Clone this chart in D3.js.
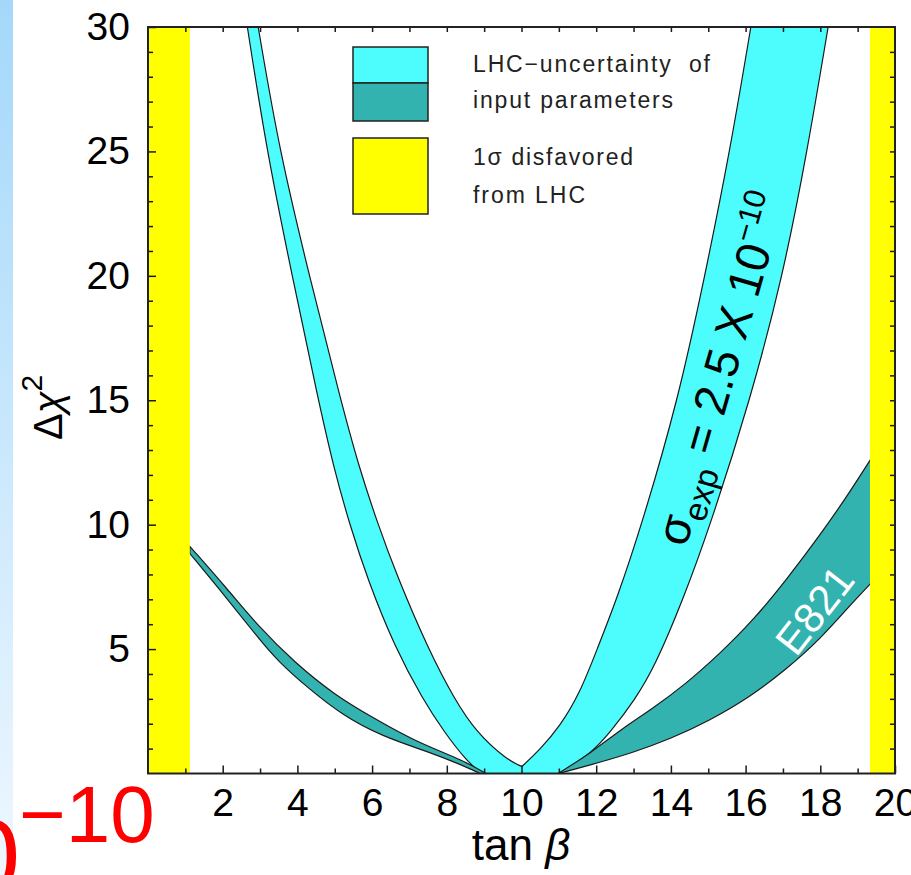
<!DOCTYPE html>
<html><head><meta charset="utf-8">
<script src="https://cdn.jsdelivr.net/npm/d3@7"></script>
<style>
body{margin:0;background:#fff;overflow:hidden;}
svg{display:block;font-family:"Liberation Sans",Arial,Helvetica,sans-serif;}
</style>
</head><body>
<svg id="chart" width="911" height="875"></svg>
<script>
// ---------------- data ----------------
const xTickLabels = [2, 4, 6, 8, 10, 12, 14, 16, 18, 20];
const xMinorTicks = [1, 3, 5, 7, 9, 11, 13, 15, 17, 19];
const yTickLabels = [5, 10, 15, 20, 25, 30];
const yMinorTicks = [1, 2, 3, 4, 6, 7, 8, 9, 11, 12, 13, 14, 16, 17, 18, 19, 21, 22, 23, 24, 26, 27, 28, 29];
const allUnitTicksX = [1,2,3,4,5,6,7,8,9,10,11,12,13,14,15,16,17,18,19];
const allUnitTicksY = [1,2,3,4,5,6,7,8,9,10,11,12,13,14,15,16,17,18,19,20,21,22,23,24,25,26,27,28,29];

// LHC 1-sigma disfavoured tan(beta) ranges
const disfavoredLow = [0, 1.12];
const disfavoredHigh = [19.33, 20];

// sigma_exp = 2.5e-10 band (cyan), [tanBeta, dChi2]
const lhcLeftOuter  = [[2.66,30],[3.18,25],[3.86,20],[4.56,15],[4.97,12.3],[5.4,10],[5.88,7.8],[6.6,5.1],[7.36,2.97],[7.94,1.65],[8.5,0.56],[8.92,0]];
const lhcLeftInner  = [[2.95,30],[3.52,25],[4.32,20],[5.16,15],[5.65,12.3],[6.16,10],[6.65,8.0],[7.5,5.0],[8.21,2.97],[8.8,1.64],[9.6,0.56],[10.01,0.28]];
const lhcRightInner = [[10.01,0.28],[10.49,0.96],[11.03,1.89],[11.57,3.25],[12.02,4.98],[12.55,7.0],[13.22,10],[14.19,15],[14.91,20],[15.58,25],[16.14,30]];
const lhcRightOuter = [[11.03,0],[11.88,0.83],[12.37,1.65],[13.04,2.97],[13.57,4.3],[14.33,7.0],[15.06,10],[16.12,15],[17.0,20],[17.65,25],[18.21,30]];

// E821 band (teal)
const e821LeftUpper  = [[1.12,9.13],[2.14,7.39],[2.95,5.92],[3.93,4.45],[5.0,3.15],[6.07,2.2],[7.14,1.3],[8.48,0.5],[9.05,0]];
const e821LeftLower  = [[1.12,8.84],[2.14,6.99],[2.95,5.45],[3.48,4.51],[4.28,3.44],[5.18,2.37],[6.25,1.5],[7.59,0.83],[8.3,0.4],[8.9,0]];
const e821RightUpper = [[10.98,0],[11.88,0.85],[12.64,1.75],[13.5,2.6],[14.4,3.6],[15.3,4.8],[16.2,6.15],[17.1,7.8],[18.0,9.6],[18.7,11.1],[19.4,12.75]];
const e821RightLower = [[19.4,7.72],[18.88,6.9],[18.0,5.4],[17.1,4.2],[16.1,3.05],[15.0,2.1],[14.0,1.4],[13.0,0.85],[12.1,0.45],[11.0,0]];

// ---------------- drawing ----------------
const svg = d3.select("#chart");
const x = d3.scaleLinear().domain([0, 20]).range([148, 895]);
const y = d3.scaleLinear().domain([0, 30]).range([773.5, 27]);

const CYAN = "#4dfdfd", TEAL = "#33b3b0", YELLOW = "#ffff00", INK = "#1a1a1a";

// left page strip
const defs = svg.append("defs");
const grad = defs.append("linearGradient").attr("id","strip").attr("x1",0).attr("y1",0).attr("x2",0).attr("y2",1);
grad.append("stop").attr("offset","0%").attr("stop-color","#a4d8fa");
grad.append("stop").attr("offset","100%").attr("stop-color","#eef7ff");
svg.append("rect").attr("x",0).attr("y",0).attr("width",13).attr("height",875).attr("fill","url(#strip)");

defs.append("clipPath").attr("id","plotclip").append("rect")
  .attr("x", x(0)).attr("y", y(30)).attr("width", x(20)-x(0)).attr("height", y(0)-y(30));

const plot = svg.append("g").attr("clip-path","url(#plotclip)");
const line = d3.line().x(d => x(d[0])).y(d => y(d[1])).curve(d3.curveBasis);

function bandPath(pieces){
  return pieces.map((p,i) => { const s = line(p); return i === 0 ? s : "L" + s.slice(1); }).join("") + "Z";
}

// cyan band
plot.append("path")
  .attr("d", bandPath([lhcLeftOuter, lhcRightOuter, lhcRightInner.slice().reverse(), lhcLeftInner.slice().reverse()]))
  .attr("fill", CYAN).attr("stroke", INK).attr("stroke-width", 1.2);

// teal bands
plot.append("path")
  .attr("d", bandPath([e821LeftUpper, e821LeftLower.slice().reverse()]))
  .attr("fill", TEAL).attr("stroke", INK).attr("stroke-width", 1.2);
plot.append("path")
  .attr("d", bandPath([e821RightUpper, e821RightLower]))
  .attr("fill", TEAL).attr("stroke", INK).attr("stroke-width", 1.2);

// yellow disfavoured regions
[disfavoredLow, disfavoredHigh].forEach(r => {
  plot.append("rect").attr("x", x(r[0])).attr("y", y(30))
    .attr("width", x(r[1]) - x(r[0])).attr("height", y(0) - y(30)).attr("fill", YELLOW);
});

// axes
const fontTick = 39;
svg.append("g").attr("transform", `translate(0,${y(0)})`)
  .call(d3.axisBottom(x).tickValues(xTickLabels).tickSize(-8).tickPadding(15).tickFormat(d3.format("d")));
svg.append("g").attr("transform", `translate(0,${y(0)})`)
  .call(d3.axisBottom(x).tickValues(xMinorTicks).tickSize(-5).tickFormat(""));
svg.append("g").attr("transform", `translate(${x(0)},0)`)
  .call(d3.axisLeft(y).tickValues(yTickLabels).tickSize(-8).tickPadding(18).tickFormat(d3.format("d")));
svg.append("g").attr("transform", `translate(${x(0)},0)`)
  .call(d3.axisLeft(y).tickValues(yMinorTicks).tickSize(-5).tickFormat(""));
svg.append("g").attr("transform", `translate(0,${y(30)})`)
  .call(d3.axisTop(x).tickValues(allUnitTicksX).tickSize(-5).tickFormat(""));
svg.append("g").attr("transform", `translate(${x(20)},0)`)
  .call(d3.axisRight(y).tickValues(allUnitTicksY).tickSize(-5).tickFormat(""));

svg.selectAll(".domain").remove();
svg.selectAll(".tick line").attr("stroke", INK).attr("stroke-width", 1.5);
svg.selectAll(".tick text").attr("fill", "#000").style("font-size", fontTick + "px")
  .style("font-family", '"Liberation Sans",Arial,Helvetica,sans-serif');

// frame
svg.append("rect").attr("x", x(0)).attr("y", y(30)).attr("width", x(20)-x(0)).attr("height", y(0)-y(30))
  .attr("fill","none").attr("stroke", "#222").attr("stroke-width", 2);

// axis titles
const xt = svg.append("text").attr("x", 521).attr("y", 860).attr("text-anchor","middle")
  .style("font-size","44px").attr("fill","#000");
xt.append("tspan").text("tan ");
xt.append("tspan").attr("font-style","italic").text("β");

const yt = svg.append("text").attr("transform","translate(62,440) rotate(-90)")
  .style("font-size","40px").attr("fill","#000");
yt.append("tspan").text("Δ");
yt.append("tspan").attr("font-style","italic").text("χ");
yt.append("tspan").attr("dy", -20).style("font-size","30px").text("2");

// in-plot labels
const sig = svg.append("text").attr("transform","translate(686,548) rotate(-74)")
  .style("font-size","47px").attr("fill","#000");
sig.append("tspan").text("σ");
sig.append("tspan").attr("dy", 11).style("font-size","33px").text("exp");
sig.append("tspan").attr("dy", -11).text(" = 2.5 X 10");
sig.append("tspan").attr("dy", -20).style("font-size","31px").text("−10");

svg.append("text").attr("transform","translate(796,658) rotate(-52)")
  .style("font-size","42px").attr("fill","#fff").text("E821");

// legend
const lg = svg.append("g");
lg.append("rect").attr("x",353).attr("y",47).attr("width",75).attr("height",36).attr("fill",CYAN).attr("stroke","#222").attr("stroke-width",1.5);
lg.append("rect").attr("x",353).attr("y",83).attr("width",75).attr("height",38).attr("fill",TEAL).attr("stroke","#222").attr("stroke-width",1.5);
lg.append("rect").attr("x",353).attr("y",138).attr("width",75).attr("height",76).attr("fill",YELLOW).attr("stroke","#222").attr("stroke-width",1.5);
const legendLines = [
  {t:"LHC−uncertainty\u00a0 of", y:72, w:237},
  {t:"input parameters", y:108, w:200},
  {t:"1σ disfavored", y:165, w:160},
  {t:"from LHC", y:203, w:112}
];
legendLines.forEach(l => {
  lg.append("text").attr("x",473).attr("y",l.y).attr("textLength",l.w).attr("lengthAdjust","spacing")
    .style("font-size","23px").attr("fill","#222").text(l.t);
});

// slide fragment at bottom-left
svg.append("text").attr("x",20).attr("y",892).attr("text-anchor","end")
  .style("font-size","104px").attr("fill","#ff0000").text("10");
svg.append("text").attr("x",19).attr("y",842)
  .style("font-size","80px").attr("fill","#ff0000").text("−10");
</script>
</body></html>
